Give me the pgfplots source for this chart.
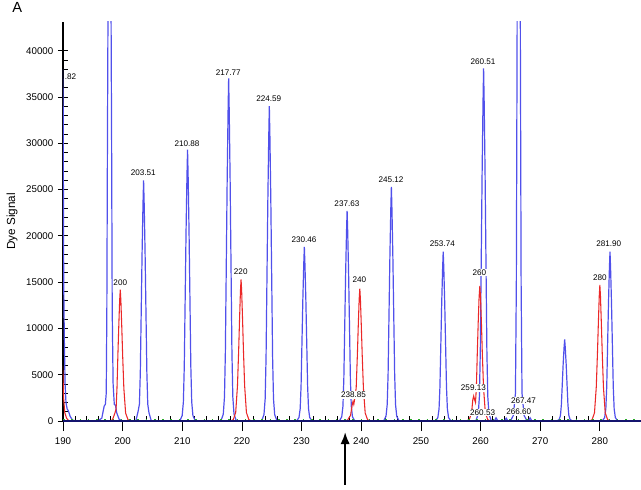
\documentclass[border=0pt]{standalone}
\usepackage{fontspec}
\setmainfont{Liberation Sans}
\usepackage{pgfplots}
\pgfplotsset{compat=1.18}
\usetikzlibrary{arrows.meta}
\definecolor{traceblue}{RGB}{80,80,235}
\definecolor{tracered}{RGB}{235,40,40}
\definecolor{basenavy}{RGB}{20,20,110}
\definecolor{basegreen}{RGB}{40,170,40}
\tikzset{lab/.style={font=\fontsize{6.1}{7}\selectfont, anchor=south, inner sep=0.6pt, fill=white}}
\begin{document}
\begin{tikzpicture}
\useasboundingbox (-47.25pt,-51pt) rectangle (433.5pt,315.75pt);
\begin{axis}[
  scale only axis, width=433.5pt, height=299.25pt,
  xmin=190, xmax=286.9, ymin=0, ymax=43100,
  axis lines*=left,
  axis line style={line width=0.8pt},
  xtick={190,200,...,280}, minor x tick num=4,
  ytick={0,5000,...,40000}, minor y tick num=4,
  tick align=center,
  major tick length=7.5pt, minor tick length=3.5pt,
  tick style={line width=0.6pt, black},
  major x tick style={yshift=-3.75pt},
  minor x tick style={yshift=1.75pt},
  minor y tick style={xshift=1.75pt},
  scaled y ticks=false,
  /pgf/number format/set thousands separator={},
  /pgf/number format/assume math mode=true,
  ticklabel style={font=\fontsize{7.3}{8}\selectfont},
  xticklabel style={yshift=-5pt},
  ylabel={Dye Signal},
  ylabel style={at={(axis description cs:-0.088,0.5)}, anchor=center, font=\fontsize{8.8}{10}\selectfont},
]
\addplot[traceblue, line width=0.9pt] coordinates {
(189.9,38000)(190.02,35000)(190.12,15000)(190.22,9000)(190.35,4000)(190.5,2000)(190.7,1300)(190.9,1100)(191.2,500)(191.6,100)(192.2,0)
(195.8,0)(196.5,300)(196.9,1600)(197.1,1800)(197.25,3000)(197.35,12000)(197.45,30000)(197.55,45000)(197.8,80000)(198.05,45000)(198.15,30000)(198.25,12000)(198.4,4000)(198.6,1800)(198.8,1700)(199.0,900)(199.4,200)(200.0,0)
(202.21,0)(202.61,1100)(202.81,1820)(202.96,5200)(203.11,11700)(203.26,18200)(203.41,23400)(203.51,26000)(203.61,23400)(203.76,18200)(203.91,11700)(204.06,5200)(204.21,1820)(204.41,900)(204.81,0)
(209.58,0)(209.98,586)(210.18,2051)(210.33,5860)(210.48,13185)(210.63,20510)(210.78,26370)(210.88,29300)(210.98,26370)(211.13,20510)(211.28,13185)(211.43,5860)(211.58,2051)(211.78,586)(212.18,0)
(216.47,0)(216.87,740)(217.07,2590)(217.22,7400)(217.37,16650)(217.52,25900)(217.67,33300)(217.77,37000)(217.87,33300)(218.02,25900)(218.17,16650)(218.32,7400)(218.47,2590)(218.67,740)(219.07,0)
(223.29,0)(223.69,680)(223.89,2380)(224.04,6800)(224.19,15300)(224.34,23800)(224.49,30600)(224.59,34000)(224.69,30600)(224.84,23800)(224.99,15300)(225.14,6800)(225.29,2380)(225.49,680)(225.89,0)
(229.16,0)(229.56,376)(229.76,1316)(229.91,3760)(230.06,8460)(230.21,13160)(230.36,16920)(230.46,18800)(230.56,16920)(230.71,13160)(230.86,8460)(231.01,3760)(231.16,1316)(231.36,376)(231.76,0)
(236.33,0)(236.73,454)(236.93,1589)(237.08,4540)(237.23,10215)(237.38,15890)(237.53,20430)(237.63,22700)(237.73,20430)(237.88,15890)(238.03,10215)(238.18,4540)(238.33,1589)(238.53,454)(238.93,0)
(243.75,0)(244.15,506)(244.35,1771)(244.5,5060)(244.65,11385)(244.8,17710)(244.95,22770)(245.05,25300)(245.15,22770)(245.3,17710)(245.45,11385)(245.6,5060)(245.75,1771)(245.95,506)(246.35,0)
(252.44,0)(252.84,366)(253.04,1281)(253.19,3660)(253.34,8235)(253.49,12810)(253.64,16470)(253.74,18300)(253.84,16470)(253.99,12810)(254.14,8235)(254.29,3660)(254.44,1281)(254.64,366)(255.04,0)
(259.21,0)(259.61,762)(259.81,2667)(259.96,7620)(260.11,17145)(260.26,26670)(260.41,34290)(260.51,38100)(260.61,34290)(260.76,26670)(260.91,17145)(261.06,7620)(261.21,2667)(261.41,762)(261.81,0)
(262.3,0)(262.6,350)(262.9,0)(264.0,0)(264.3,300)(264.6,0)
(265.0,0)(265.5,600)(265.85,3000)(266.0,15000)(266.12,40000)(266.25,75000)(266.4,90000)(266.55,75000)(266.68,40000)(266.8,15000)(266.95,3000)(267.3,600)(267.8,0)
(268.0,0)(268.3,350)(268.6,0)
(272.8,0)(273.2,176)(273.4,616)(273.55,1760)(273.7,3960)(273.85,6160)(274.0,7920)(274.1,8800)(274.2,7920)(274.35,6160)(274.5,3960)(274.65,1760)(274.8,616)(275.0,176)(275.4,0)
(280.4,0)(280.8,366)(281.0,1281)(281.15,3660)(281.3,8235)(281.45,12810)(281.6,16470)(281.7,18300)(281.8,16470)(281.95,12810)(282.1,8235)(282.25,3660)(282.4,1281)(282.6,366)(283.0,0)
(287,0)
};
\addplot[tracered, line width=0.8pt] coordinates {
(189.9,6000)(190.0,5000)(190.1,2500)(190.3,900)(190.6,300)(191.0,0)
(197.9,0)(198.3,142)(198.7,852)(198.9,1300)(199.05,3550)(199.2,7100)(199.35,10224)(199.5,13064)(199.6,14200)(199.7,13064)(199.85,10224)(200.0,7100)(200.2,3550)(200.5,852)(200.9,142)(201.3,0)
(218.15,0)(218.55,153)(218.95,918)(219.25,3825)(219.45,7650)(219.6,11016)(219.75,14076)(219.85,15300)(219.95,14076)(220.1,11016)(220.25,7650)(220.45,3825)(220.75,918)(221.15,153)(221.55,0)
(237.2,0)(237.7,100)(238.2,600)(238.5,1800)(238.62,2100)(238.75,1800)(238.95,2600)(239.15,3575)(239.35,7150)(239.5,10296)(239.65,13156)(239.76,14300)(239.86,13156)(240.01,10296)(240.16,7150)(240.36,3575)(240.66,858)(241.06,143)(241.46,0)
(257.6,0)(258.1,150)(258.5,900)(258.7,2300)(258.85,2700)(259.0,2300)(259.15,2000)(259.3,3600)(259.45,7250)(259.6,10500)(259.75,13300)(259.88,14600)(260.0,13300)(260.15,10500)(260.3,7250)(260.5,3600)(260.8,900)(261.2,150)(261.6,0)
(278.3,0)(278.7,147)(279.1,882)(279.4,3675)(279.6,7350)(279.75,10584)(279.9,13524)(280.0,14700)(280.1,13524)(280.25,10584)(280.4,7350)(280.6,3675)(280.9,882)(281.3,147)(281.7,0)
(287,0)
};
\addplot[basegreen, line width=0.8pt, dash pattern=on 1.2pt off 5pt] coordinates {(190,150)(287,150)};
\addplot[basenavy, line width=1.2pt] coordinates {(190,0)(287,0)};
\node[lab, anchor=west] at (axis cs:190.15,37200) {.82};
\node[lab] at (axis cs:199.6,14500) {200};
\node[lab] at (axis cs:203.45,26400) {203.51};
\node[lab] at (axis cs:210.8,29500) {210.88};
\node[lab] at (axis cs:217.7,37200) {217.77};
\node[lab] at (axis cs:224.5,34400) {224.59};
\node[lab] at (axis cs:230.4,19200) {230.46};
\node[lab] at (axis cs:237.6,23100) {237.63};
\node[lab] at (axis cs:245.0,25650) {245.12};
\node[lab] at (axis cs:253.6,18700) {253.74};
\node[lab] at (axis cs:260.4,38400) {260.51};
\node[lab] at (axis cs:281.5,18700) {281.90};
\node[lab] at (axis cs:219.8,15700) {220};
\node[lab] at (axis cs:239.7,14800) {240};
\node[lab] at (axis cs:238.7,2400) {238.85};
\node[lab] at (axis cs:259.8,15600) {260};
\node[lab] at (axis cs:258.8,3150) {259.13};
\node[lab] at (axis cs:260.35,460) {260.53};
\node[lab] at (axis cs:266.4,570) {266.60};
\node[lab] at (axis cs:267.2,1760) {267.47};
\node[lab] at (axis cs:280.0,15060) {280};
\coordinate (arrowtop) at (axis cs:237.3,-1190);
\coordinate (arrowbot) at (axis cs:237.3,-6900);
\end{axis}
\draw[line width=1.6pt, -{Latex[length=9pt,width=7pt]}] (arrowbot) -- (arrowtop);
\node[font=\fontsize{11}{12}\selectfont] at (-34.25pt,310.5pt) {A};
\end{tikzpicture}
\end{document}
